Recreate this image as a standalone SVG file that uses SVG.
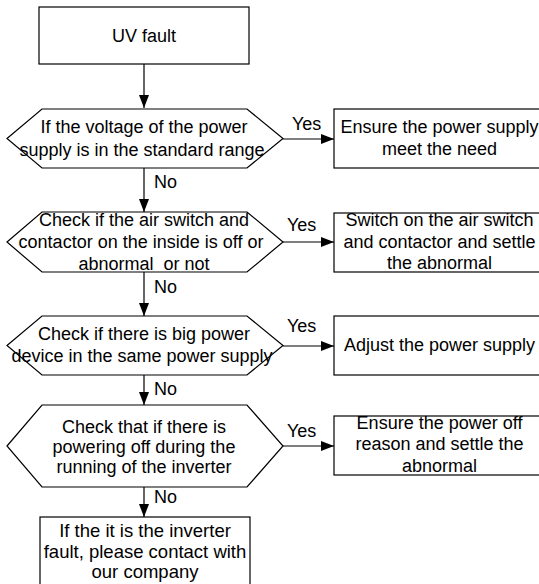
<svg xmlns="http://www.w3.org/2000/svg" width="539" height="584" viewBox="0 0 539 584">
<style>
.n{fill:#fff;stroke:#000;stroke-width:1.2}
text{font-family:"Liberation Sans",Arial,sans-serif;font-size:18px;fill:#000;text-anchor:middle}
.l{text-anchor:start}
.c{stroke:#000;stroke-width:1.2;fill:none;marker-end:url(#ah)}
</style>
<defs>
<marker id="ah" markerUnits="userSpaceOnUse" markerWidth="14" markerHeight="12" refX="13" refY="5" orient="auto">
<path d="M0,0 L13,5 L0,10 z" fill="#000"/>
</marker>
</defs>
<g id="connectors">
<line class="c" x1="144" y1="64" x2="144" y2="108"/>
<line class="c" x1="144" y1="168" x2="144" y2="212"/>
<line class="c" x1="144" y1="272" x2="144" y2="316"/>
<line class="c" x1="144" y1="375" x2="144" y2="405"/>
<line class="c" x1="144" y1="487" x2="144" y2="517"/>
<line class="c" x1="283" y1="139" x2="334" y2="139"/>
<line class="c" x1="283" y1="242" x2="334" y2="242"/>
<line class="c" x1="283" y1="346" x2="334" y2="346"/>
<line class="c" x1="283" y1="446" x2="334" y2="446"/>
<text class="l" x="154" y="188">No</text>
<text class="l" x="154" y="293">No</text>
<text class="l" x="154" y="395">No</text>
<text class="l" x="154" y="503">No</text>
<text class="l" x="292" y="130">Yes</text>
<text class="l" x="287" y="231">Yes</text>
<text class="l" x="287" y="332">Yes</text>
<text class="l" x="287" y="437">Yes</text>
</g>
<g id="start">
<rect class="n" x="39" y="7" width="210" height="57"/>
<text x="144" y="42">UV fault</text>
</g>
<g id="d1">
<polygon class="n" points="7,138.5 42,109 247,109 283,138.5 247,168 42,168"/>
<text x="144" y="133">If the voltage of the power</text>
<text x="142" y="156">supply is in the standard range</text>
</g>
<g id="b1">
<rect class="n" x="334" y="109" width="211" height="59"/>
<text x="439.5" y="133">Ensure the power supply</text>
<text x="439.5" y="155">meet the need</text>
</g>
<g id="d2">
<polygon class="n" points="7,242 42,212 247,212 283,242 247,272 42,272"/>
<text x="144" y="226">Check if the air switch and</text>
<text x="141" y="248">contactor on the inside is off or</text>
<text x="144" y="270" xml:space="preserve">abnormal  or not</text>
</g>
<g id="b2">
<rect class="n" x="334" y="213" width="211" height="59"/>
<text x="439.5" y="226">Switch on the air switch</text>
<text x="439.5" y="248">and contactor and settle</text>
<text x="439.5" y="269">the abnormal</text>
</g>
<g id="d3">
<polygon class="n" points="7,345.5 42,316 247,316 283,345.5 247,375 42,375"/>
<text x="144" y="340">Check if there is big power</text>
<text x="142" y="362">device in the same power supply</text>
</g>
<g id="b3">
<rect class="n" x="334" y="316" width="211" height="59"/>
<text x="439.5" y="351">Adjust the power supply</text>
</g>
<g id="d4">
<polygon class="n" points="7,446 42,405 247,405 283,446 247,487 42,487"/>
<text x="144" y="433">Check that if there is</text>
<text x="144" y="453">powering off during the</text>
<text x="144" y="473">running of the inverter</text>
</g>
<g id="b4">
<rect class="n" x="334" y="416" width="211" height="59"/>
<text x="439.5" y="429">Ensure the power off</text>
<text x="439.5" y="450">reason and settle the</text>
<text x="439.5" y="472">abnormal</text>
</g>
<g id="end">
<rect class="n" x="40" y="517" width="210" height="75"/>
<text x="145" y="537" style="font-size:18.5px">If the it is the inverter</text>
<text x="145" y="558" style="font-size:18.5px">fault, please contact with</text>
<text x="145" y="578" style="font-size:18.5px">our company</text>
</g>
</svg>
